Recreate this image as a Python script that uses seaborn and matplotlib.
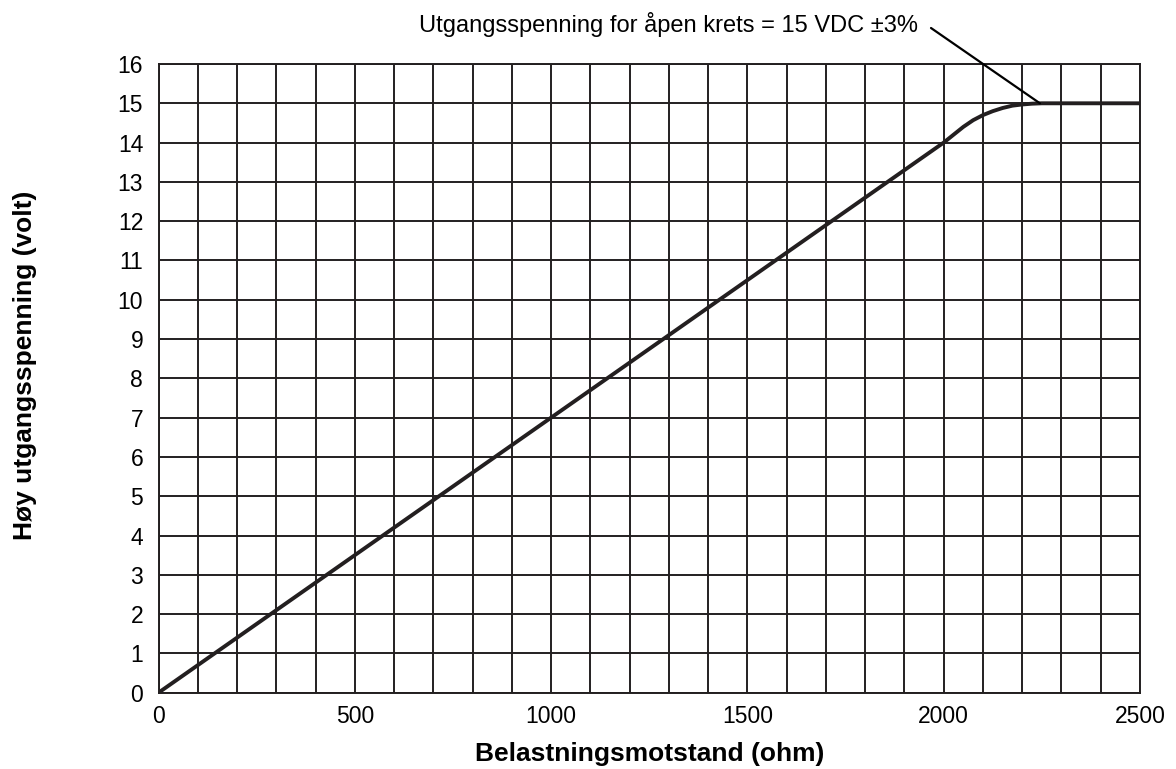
import matplotlib
matplotlib.use("Agg")
import matplotlib.pyplot as plt
import seaborn as sns
import pandas as pd
from matplotlib.ticker import MultipleLocator

resistance = [0, 500, 1000, 1500, 2000, 2025, 2050, 2075, 2100, 2125, 2150, 2175, 2200, 2225, 2250, 2500]
voltage = [0, 3.5, 7.0, 10.5, 14.0, 14.2, 14.4, 14.57, 14.7, 14.8, 14.88, 14.94, 14.97, 14.99, 15.0, 15.0]

x_ticks = [0, 500, 1000, 1500, 2000, 2500]
y_ticks = list(range(0, 17))

annot_text = "Utgangsspenning for åpen krets = 15 VDC ±3%"
annot_point = (2245, 15)
xlabel = "Belastningsmotstand (ohm)"
ylabel = "Høy utgangsspenning (volt)"

sns.set_theme(style="white")
plt.rcParams['font.family'] = ['Liberation Sans', 'DejaVu Sans']
plt.rcParams['text.color'] = 'black'
plt.rcParams['axes.labelcolor'] = 'black'

df = pd.DataFrame({"R": resistance, "V": voltage})

W, H = 1176, 769
fig = plt.figure(figsize=(W / 100, H / 100), dpi=100)
ax = fig.add_axes([158.5 / W, 1 - 692.7 / H, (1140 - 158.5) / W, (692.7 - 64) / H])

sns.lineplot(data=df, x="R", y="V", ax=ax, color="#231f20", linewidth=2.8, zorder=3)

ax.set_xlim(0, 2500)
ax.set_ylim(0, 16)
ax.set_xticks(x_ticks)
ax.xaxis.set_minor_locator(MultipleLocator(100))
ax.set_yticks(y_ticks)
ax.grid(True, which="both", color="#231f20", linewidth=1.4)
ax.tick_params(which="both", length=0, labelsize=16.5, colors="black")
ax.tick_params(axis="x", pad=9)
ax.tick_params(axis="y", pad=11)
for s in ax.spines.values():
    s.set_color("#231f20")
    s.set_linewidth(1.4)

ax.set_xlabel(xlabel, fontsize=19, fontweight="bold", labelpad=10, color="black")
ax.set_ylabel("")
fig.text(25 / W, 1 - 365 / H, ylabel, rotation=90, ha="center", va="center",
         fontsize=19, fontweight="bold", color="black")

fig.text(918 / W, 1 - 32 / H, annot_text, ha="right", va="baseline", fontsize=17, color="black")
ax.annotate("", xy=annot_point, xycoords="data",
            xytext=(931 / W, 1 - 28 / H), textcoords="figure fraction",
            arrowprops=dict(arrowstyle="-", color="black", lw=1.6,
                            shrinkA=0, shrinkB=0))

fig.savefig("out.png", dpi=100)
